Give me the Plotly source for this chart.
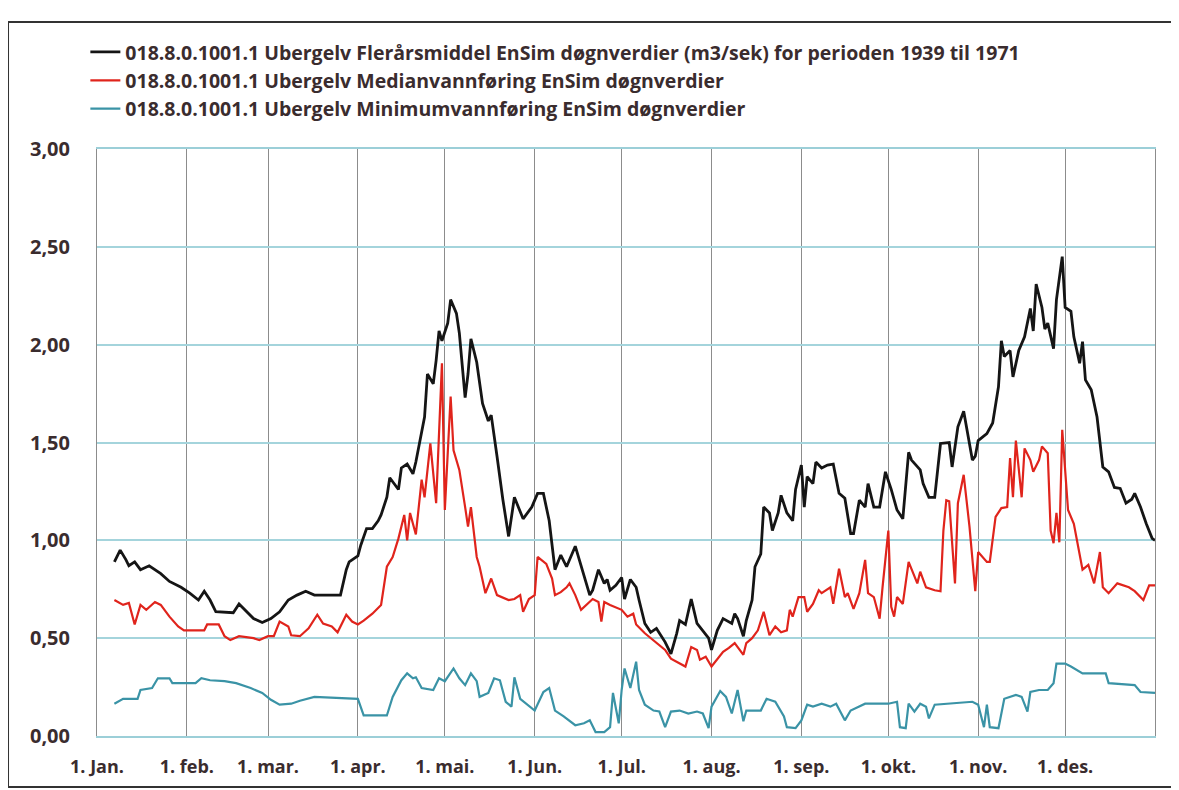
import pandas as pd
import plotly.graph_objects as go

# ---- data (day 0 = 1 Jan) ----
mean_day = [6, 8, 10, 11, 13, 15, 18, 22, 25, 29, 32, 35, 37, 39, 41, 45, 47, 49, 52, 54, 57, 60, 63, 66,
            69, 72, 75, 83, 84, 86, 87, 90, 91, 93, 95, 97, 98, 100, 101, 104, 105, 107, 109, 110, 112, 113,
            114, 116, 117, 118, 119, 121, 122, 124, 125, 127, 128, 129, 131, 133, 135, 136, 138, 140, 142,
            144, 147, 150, 152, 154, 156, 158, 160, 162, 165, 167, 170, 171, 173, 175, 176, 177, 179, 181,
            182, 184, 186, 187, 189, 191, 193, 196, 198, 200, 201, 203, 205, 207, 209, 211, 212, 214, 216,
            219, 220, 221, 223, 224, 226, 227, 229, 230, 232, 233, 235, 236, 238, 240, 241, 243, 244, 245,
            247, 248, 250, 252, 254, 256, 258, 260, 261, 263, 265, 266, 268, 270, 272, 274, 276, 278, 280,
            281, 284, 285, 287, 289, 291, 294, 295, 297, 299, 300, 302, 303, 304, 307, 309, 311, 312, 313,
            315, 316, 318, 320, 322, 323, 324, 326, 327, 328, 330, 331, 333, 334, 336, 337, 339, 340, 341,
            343, 345, 347, 349, 351, 353, 355, 357, 358, 360, 362, 364, 365]
mean_val = [0.89, 0.95, 0.90, 0.87, 0.89, 0.85, 0.87, 0.83, 0.79, 0.76, 0.73, 0.695, 0.74, 0.695, 0.635,
            0.63, 0.63, 0.675, 0.63, 0.60, 0.58, 0.60, 0.635, 0.695, 0.72, 0.74, 0.72, 0.72, 0.72, 0.85,
            0.89, 0.92, 0.975, 1.06, 1.06, 1.10, 1.13, 1.22, 1.32, 1.26, 1.37, 1.39, 1.34, 1.40, 1.55, 1.63,
            1.85, 1.80, 1.92, 2.07, 2.02, 2.11, 2.23, 2.16, 2.06, 1.73, 1.85, 2.03, 1.91, 1.70, 1.61, 1.64,
            1.43, 1.21, 1.02, 1.22, 1.11, 1.17, 1.24, 1.24, 1.10, 0.85, 0.925, 0.865, 0.97, 0.875, 0.72,
            0.745, 0.85, 0.78, 0.80, 0.745, 0.77, 0.81, 0.70, 0.80, 0.76, 0.695, 0.575, 0.53, 0.55, 0.48,
            0.42, 0.525, 0.59, 0.57, 0.70, 0.575, 0.54, 0.50, 0.44, 0.54, 0.60, 0.575, 0.625, 0.60, 0.51,
            0.59, 0.695, 0.865, 0.93, 1.17, 1.14, 1.05, 1.14, 1.23, 1.14, 1.10, 1.26, 1.385, 1.17, 1.325,
            1.29, 1.40, 1.37, 1.385, 1.39, 1.24, 1.215, 1.035, 1.035, 1.205, 1.17, 1.29, 1.17, 1.17, 1.35,
            1.26, 1.155, 1.11, 1.45, 1.41, 1.36, 1.29, 1.22, 1.22, 1.495, 1.50, 1.375, 1.58, 1.66, 1.58,
            1.41, 1.43, 1.51, 1.545, 1.60, 1.785, 2.02, 1.94, 1.97, 1.835, 1.97, 2.04, 2.185, 2.07, 2.31,
            2.19, 2.08, 2.11, 1.98, 2.23, 2.45, 2.19, 2.17, 2.04, 1.905, 2.015, 1.82, 1.77, 1.63, 1.375,
            1.35, 1.27, 1.265, 1.19, 1.21, 1.24, 1.17, 1.085, 1.01, 1.00]

median_day = [6, 9, 11, 13, 15, 17, 20, 22, 25, 28, 30, 37, 38, 42, 44, 46, 49, 54, 56, 59, 61, 63, 66, 67,
              70, 73, 76, 78, 81, 83, 86, 88, 90, 92, 95, 98, 100, 102, 104, 106, 107, 108, 110, 112, 113,
              115, 117, 119, 120, 122, 123, 125, 127, 128, 129, 131, 132, 134, 136, 138, 142, 144, 146, 147,
              149, 151, 152, 155, 157, 158, 160, 162, 163, 165, 167, 169, 171, 173, 174, 175, 177, 181, 183,
              185, 186, 189, 192, 196, 198, 201, 203, 205, 207, 208, 210, 212, 214, 216, 218, 220, 223, 224,
              226, 228, 230, 231, 232, 234, 236, 238, 239, 240, 242, 244, 245, 247, 249, 250, 253, 254, 256,
              258, 259, 261, 263, 265, 266, 268, 270, 271, 273, 274, 275, 276, 278, 280, 281, 283, 284, 286,
              289, 291, 292, 293, 294, 296, 297, 299, 301, 303, 304, 307, 308, 310, 312, 314, 315, 316, 317,
              319, 320, 322, 323, 325, 326, 328, 329, 330, 331, 332, 333, 335, 337, 340, 342, 344, 346, 347,
              349, 352, 356, 358, 361, 363, 365]
median_val = [0.695, 0.67, 0.68, 0.57, 0.67, 0.645, 0.685, 0.67, 0.61, 0.56, 0.54, 0.54, 0.57, 0.57, 0.51,
              0.49, 0.51, 0.50, 0.49, 0.51, 0.51, 0.585, 0.56, 0.515, 0.51, 0.55, 0.62, 0.575, 0.56, 0.53,
              0.62, 0.585, 0.57, 0.59, 0.625, 0.67, 0.865, 0.915, 1.01, 1.13, 1.00, 1.14, 1.03, 1.31, 1.22,
              1.495, 1.19, 1.905, 1.155, 1.735, 1.46, 1.36, 1.17, 1.07, 1.17, 0.915, 0.865, 0.73, 0.805, 0.72,
              0.695, 0.70, 0.72, 0.635, 0.70, 0.72, 0.915, 0.88, 0.805, 0.72, 0.735, 0.76, 0.78, 0.72, 0.645,
              0.67, 0.70, 0.685, 0.585, 0.685, 0.67, 0.645, 0.61, 0.625, 0.57, 0.525, 0.49, 0.44, 0.395, 0.37,
              0.355, 0.455, 0.44, 0.39, 0.405, 0.355, 0.39, 0.43, 0.45, 0.475, 0.415, 0.475, 0.50, 0.54, 0.635,
              0.575, 0.515, 0.56, 0.53, 0.54, 0.645, 0.61, 0.71, 0.71, 0.635, 0.675, 0.745, 0.73, 0.76, 0.675,
              0.855, 0.71, 0.73, 0.65, 0.73, 0.90, 0.73, 0.71, 0.60, 0.76, 1.05, 0.66, 0.61, 0.71, 0.675,
              0.89, 0.85, 0.78, 0.84, 0.76, 0.745, 0.74, 1.05, 1.205, 1.20, 0.78, 1.19, 1.335, 1.07, 0.74,
              0.94, 0.89, 0.89, 1.12, 1.165, 1.17, 1.42, 1.22, 1.51, 1.22, 1.47, 1.41, 1.35, 1.41, 1.48, 1.445,
              1.05, 0.985, 1.14, 0.99, 1.565, 1.155, 1.085, 0.85, 0.875, 0.78, 0.94, 0.76, 0.73, 0.78, 0.76,
              0.74, 0.695, 0.77, 0.77]

min_day = [6, 9, 14, 15, 19, 21, 25, 26, 34, 36, 39, 44, 48, 53, 57, 60, 63, 67, 70, 73, 75, 90, 92, 100,
           102, 105, 107, 109, 110, 112, 116, 118, 120, 123, 125, 127, 129, 131, 132, 135, 137, 139, 141, 143,
           144, 146, 148, 151, 154, 156, 158, 161, 165, 168, 170, 172, 175, 177, 178, 180, 181, 182, 184, 186,
           187, 189, 192, 194, 196, 198, 201, 204, 207, 209, 211, 212, 215, 217, 219, 221, 223, 224, 229, 231,
           234, 237, 238, 241, 243, 245, 247, 250, 253, 255, 258, 260, 265, 273, 276, 277, 279, 280, 282, 284,
           286, 287, 289, 302, 304, 306, 307, 308, 311, 313, 317, 319, 321, 322, 325, 328, 330, 331, 334, 336,
           340, 348, 349, 358, 360, 365]
min_val = [0.165, 0.19, 0.19, 0.235, 0.245, 0.295, 0.295, 0.27, 0.27, 0.295, 0.285, 0.28, 0.27, 0.245, 0.22,
           0.185, 0.16, 0.165, 0.18, 0.19, 0.20, 0.19, 0.105, 0.105, 0.20, 0.285, 0.32, 0.295, 0.30, 0.245,
           0.235, 0.295, 0.28, 0.345, 0.295, 0.26, 0.32, 0.28, 0.20, 0.22, 0.295, 0.285, 0.175, 0.15, 0.30,
           0.19, 0.165, 0.13, 0.225, 0.245, 0.13, 0.10, 0.055, 0.065, 0.08, 0.02, 0.02, 0.045, 0.22, 0.065,
           0.235, 0.345, 0.245, 0.38, 0.235, 0.16, 0.13, 0.125, 0.045, 0.125, 0.13, 0.115, 0.125, 0.115, 0.04,
           0.15, 0.23, 0.20, 0.115, 0.235, 0.075, 0.13, 0.13, 0.19, 0.175, 0.10, 0.045, 0.04, 0.08, 0.16,
           0.15, 0.165, 0.15, 0.165, 0.08, 0.13, 0.165, 0.165, 0.175, 0.045, 0.04, 0.165, 0.125, 0.165, 0.15,
           0.09, 0.16, 0.175, 0.16, 0.045, 0.16, 0.045, 0.04, 0.19, 0.21, 0.20, 0.125, 0.225, 0.235, 0.235,
           0.27, 0.37, 0.37, 0.355, 0.32, 0.32, 0.27, 0.26, 0.225, 0.22]

month_starts = ["2021-01-01", "2021-02-01", "2021-03-01", "2021-04-01", "2021-05-01", "2021-06-01",
                "2021-07-01", "2021-08-01", "2021-09-01", "2021-10-01", "2021-11-01", "2021-12-01"]
month_labels = ["1. Jan.", "1. feb.", "1. mar.", "1. apr.", "1. mai.", "1. Jun.",
                "1. Jul.", "1. aug.", "1. sep.", "1. okt.", "1. nov.", "1. des."]
y_ticks = [0, 0.5, 1.0, 1.5, 2.0, 2.5, 3.0]

names = ["018.8.0.1001.1 Ubergelv Flerårsmiddel EnSim døgnverdier (m3/sek) for perioden 1939 til 1971",
         "018.8.0.1001.1 Ubergelv Medianvannføring EnSim døgnverdier",
         "018.8.0.1001.1 Ubergelv Minimumvannføring EnSim døgnverdier"]

base = pd.Timestamp("2021-01-01")


def to_dates(days):
    return base + pd.to_timedelta(days, unit="D")


TXT = "#3a2c2e"
FONT = "Open Sans"

fig = go.Figure()
fig.add_trace(go.Scatter(x=to_dates(mean_day), y=mean_val, mode="lines", name=names[0],
                         line=dict(color="#151515", width=2.8)))
fig.add_trace(go.Scatter(x=to_dates(median_day), y=median_val, mode="lines", name=names[1],
                         line=dict(color="#e0241c", width=2.2)))
fig.add_trace(go.Scatter(x=to_dates(min_day), y=min_val, mode="lines", name=names[2],
                         line=dict(color="#3a93a6", width=2.2)))

fig.update_layout(
    width=1179, height=790,
    margin=dict(l=89, r=32, t=141, b=62),
    paper_bgcolor="white", plot_bgcolor="white",
    separators=", ",
    font=dict(family=FONT, color=TXT),
    showlegend=True,
    legend=dict(x=-0.011, y=1.198, xanchor="left", yanchor="top",
                font=dict(family=FONT, size=19.5, color=TXT, weight="bold"),
                bgcolor="rgba(0,0,0,0)", tracegroupgap=0),
    xaxis=dict(type="date", range=["2021-01-01", "2022-01-01"],
               tickmode="array", tickvals=month_starts, ticktext=month_labels,
               showgrid=True, gridcolor="#8c8c8c", gridwidth=1,
               showline=True, mirror=True, linecolor="#9ccfd8", linewidth=1.5,
               ticks="", ticklabelstandoff=14,
               tickfont=dict(family=FONT, size=18, color=TXT, weight="bold"),
               zeroline=False),
    yaxis=dict(range=[0, 3], tickmode="array", tickvals=y_ticks, tickformat=".2f",
               showgrid=True, gridcolor="#a4d4dc", gridwidth=1.5,
               showline=True, mirror=True, linecolor="#8c8c8c", linewidth=1,
               ticks="", ticklabelstandoff=22,
               tickfont=dict(family=FONT, size=20, color=TXT, weight="bold"),
               zeroline=False),
)

# outer chart frame (scanned border): left, top and bottom edges
frame = dict(xref="paper", yref="paper", line=dict(color="#333333", width=2), layer="below")
fig.add_shape(type="line", x0=-0.0841, x1=-0.0841, y0=-0.087, y1=1.2164, **frame)
fig.add_shape(type="line", x0=-0.0841, x1=1.03, y0=1.2164, y1=1.2164, **frame)
fig.add_shape(type="line", x0=-0.0841, x1=1.03, y0=-0.087, y1=-0.087, **frame)

fig.write_html("out.html")
